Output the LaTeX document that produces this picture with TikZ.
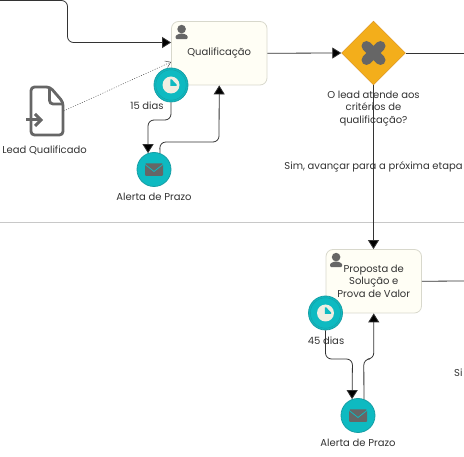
\documentclass[tikz,border=0pt]{standalone}
\usepackage{fontspec}
\setmainfont{Poppins}
\usepackage{xcolor}
\usetikzlibrary{shapes.geometric,arrows.meta,positioning,calc}
\definecolor{taskbg}{RGB}{255, 254, 245}
\definecolor{taskline}{RGB}{216, 216, 204}
\definecolor{evteal}{RGB}{14, 186, 193}
\definecolor{evring}{RGB}{22, 158, 165}
\definecolor{gateorange}{RGB}{243, 174, 27}
\definecolor{gateline}{RGB}{214, 140, 30}
\definecolor{icongray}{RGB}{102, 102, 102}
\definecolor{wirecolor}{RGB}{51, 51, 51}
\definecolor{lanegray}{RGB}{200, 200, 200}
\definecolor{clockbg}{RGB}{240, 238, 226}

\begin{document}
\begin{tikzpicture}[
    x=1pt, y=-1pt,
    task/.style={draw=taskline, thick, fill=taskbg, rounded corners=7pt, align=center, text=black!80, font=\fontsize{10}{12.4}\selectfont, minimum width=95.5pt, minimum height=63.5pt, inner sep=0pt},
    event/.style={circle, draw=evring, fill=evteal, line width=0.8pt, minimum size=34pt, inner sep=0pt},
    gate/.style={diamond, draw=gateline, fill=gateorange, minimum width=64pt, minimum height=64pt, inner sep=0pt},
    wire/.style={-{Triangle[length=9pt,width=11pt,fill=black]}, wirecolor, thick, rounded corners=6pt},
    plain/.style={wirecolor, thick},
    lbl/.style={align=center, inner sep=0pt, text=black!80, font=\fontsize{10}{12.4}\selectfont}
]
    \useasboundingbox (0,0) rectangle (464,457);

    % Lane Boundary
    \coordinate (laneL) at (0,222.5);
    \coordinate (laneR) at (464,222.5);
    \draw[lanegray, thick] (laneL) -- (laneR);

    % Tasks
    \node[task] (taskA) at (219.25,53.25) {Qualificação};
    \node[task] (taskB) at (373.75,281.25) {Proposta de\\Solução e\\Prova de Valor};

    % Gateway
    \node[gate] (gateA) at (373.5,53) {};
    \draw[icongray, line width=10pt, line cap=round] ($(gateA)+(-7,-7)$) -- ($(gateA)+(7,7)$);
    \draw[icongray, line width=10pt, line cap=round] ($(gateA)+(-7,7)$) -- ($(gateA)+(7,-7)$);

    % Events
    \node[event] (timerA) at (171,85) {};
    \node[event] (mailA) at (154,169.5) {};
    \node[event] (timerB) at (325.5,313) {};
    \node[event] (mailB) at (358,415.5) {};

    % Clock and Mail Icons
    \foreach \ev in {timerA,timerB} {
        \draw[evring, thin] (\ev) circle (15.2pt);
        \fill[clockbg] (\ev) circle (8.5pt);
        \fill[evteal] ($(\ev)+(-0.6,1)$) -- ++(0,-6.5) -- ++(1.4,0) -- ++(4.8,5) -- ++(0,1.5) -- cycle;
    }
    \foreach \ev in {mailA,mailB} {
        \fill[icongray, rounded corners=1pt] ($(\ev)+(-9,-6)$) rectangle ($(\ev)+(9,6.5)$);
        \draw[evteal, thick] ($(\ev)+(-9.5,-5.5)$) -- ($(\ev)+(0,2)$) -- ($(\ev)+(9.5,-5.5)$);
    }

    % Person Icons
    \foreach \tk in {taskA,taskB} {
        \fill[icongray] ($(\tk.north west)+(10.5,8)$) circle (4.3pt);
        \fill[icongray, rounded corners=1pt] ($(\tk.north west)+(4.5,18)$) -- ($(\tk.north west)+(4.5,14.5)$) -- ($(\tk.north west)+(8.5,12.5)$) -- ($(\tk.north west)+(12.5,12.5)$) -- ($(\tk.north west)+(16.5,14.5)$) -- ($(\tk.north west)+(16.5,18)$) -- cycle;
    }

    % Document Icon
    \node[minimum width=33pt, minimum height=50pt, inner sep=0pt] (docLead) at (47,111) {};
    \draw[icongray, line width=2.8pt, line join=round, rounded corners=3.5pt] (40,87) -- (31,87) -- (31,135) -- (63,135) -- (63,102) -- (50,87) -- cycle;
    \draw[icongray, line width=2.8pt, line join=round, rounded corners=3.5pt] (49.5,88) -- (49.5,104) -- (63,104);
    \draw[icongray, line width=3pt] (26,120) -- (40,120);
    \draw[icongray, line width=3pt] (35,114) -- (41,120) -- (35,126);

    % Sequence Flows
    \coordinate (flowIn) at (0,0.5);
    \coordinate (flowOutA) at (464,53);
    \coordinate (flowOutB) at (464,281);
    \coordinate (assocEnd) at (171,62);
    \draw[wire] (flowIn) -- (67.5,0.5) -- (67.5,42.5) -- (taskA.west |- 0,42.5);
    \draw[wire] (taskA.east) -- (gateA.west);
    \draw[plain] (gateA.east) -- (flowOutA);
    \draw[wire] (gateA.south) -- (taskB.north -| gateA.south);
    \draw[plain] (taskB.east) -- (flowOutB);

    % Document Association
    \draw[-{Straight Barb[length=5pt,width=7pt]}, wirecolor, dash pattern=on 1pt off 1.5pt] (docLead.east) -- (assocEnd);

    % Timer and Mail Flows
    \draw[wire] (timerA.south) -- (171,120) -- (148,120) -- (mailA.110);
    \draw[wire] (mailA.70) -- (159.8,142) -- (219,142) -- (taskA.south);
    \draw[wire] (timerB.south) -- (325.5,359) -- (352.5,359) -- (mailB.110);
    \draw[wire] (mailB.70) -- (363.8,359) -- (373.75,359) -- (taskB.south);

    % Labels
    \node[lbl] (lblDoc) at (44.5,150) {Lead Qualificado};
    \node[lbl] (lblTimerA) at (147,106) {15 dias};
    \node[lbl] (lblMailA) at (154,197) {Alerta de Prazo};
    \node[lbl] (lblGate) at (373.5,108.5) {O lead atende aos\\critérios de\\qualificação?};
    \node[lbl] (lblYes) at (373.5,167) {Sim, avançar para a próxima etapa};
    \node[lbl] (lblTimerB) at (326,341) {45 dias};
    \node[lbl] (lblMailB) at (358,442.5) {Alerta de Prazo};
    \node[lbl, anchor=west] (lblNext) at (454,373) {Si};
\end{tikzpicture}
\end{document}
